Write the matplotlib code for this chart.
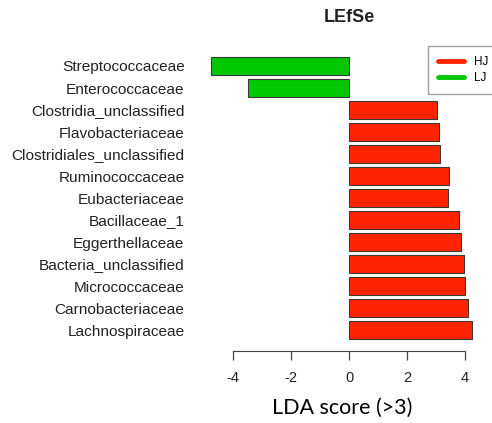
import matplotlib
matplotlib.use("Agg")
import matplotlib.pyplot as plt
from matplotlib.lines import Line2D

taxa = ["Streptococcaceae", "Enterococcaceae", "Clostridia_unclassified",
        "Flavobacteriaceae", "Clostridiales_unclassified", "Ruminococcaceae",
        "Eubacteriaceae", "Bacillaceae_1", "Eggerthellaceae",
        "Bacteria_unclassified", "Micrococcaceae", "Carnobacteriaceae",
        "Lachnospiraceae"]
lda = [-4.75, -3.49, 3.02, 3.10, 3.14, 3.44, 3.43, 3.79, 3.85, 3.96, 4.00, 4.09, 4.23]
groups = ["LJ", "LJ", "HJ", "HJ", "HJ", "HJ", "HJ", "HJ", "HJ", "HJ", "HJ", "HJ", "HJ"]
group_names = ["HJ", "LJ"]
group_colors = {"HJ": "#FF2400", "LJ": "#00C800"}
xticks = [-4, -2, 0, 2, 4]

W, H = 492, 423
fig = plt.figure(figsize=(W / 100, H / 100), dpi=100)
ax = fig.add_axes([204 / W, 1 - 343.2 / H, 275.5 / W, (343.2 - 52.8) / H])

ypos = list(range(len(taxa)))
ax.barh(ypos, lda, height=0.84, color=[group_colors[g] for g in groups],
        edgecolor="#3a3a3a", linewidth=0.8)
ax.set_xlim(-5, 4.5)
ax.set_ylim(len(taxa) - 0.4, -0.6)

ax.set_yticks(ypos)
ax.set_yticklabels(taxa, fontsize=11.1, color="#222222", family="Liberation Sans")
ax.tick_params(axis="y", length=0, pad=14)

for s in ["top", "right", "left"]:
    ax.spines[s].set_visible(False)
ax.spines["bottom"].set_position(("outward", 5.6))
ax.spines["bottom"].set_bounds(-4, 4)
ax.spines["bottom"].set_color("#444444")
ax.set_xticks(xticks)
ax.set_xticklabels([str(t) for t in xticks], fontsize=10.5, color="#222222",
                   family="Liberation Sans")
ax.tick_params(axis="x", length=6.5, width=0.9, color="#444444", pad=8)
ax.set_xlabel("LDA score (>3)", fontsize=15.5, family="Lato", labelpad=9)

fig.text(349 / W, 1 - 18 / H, "LEfSe", ha="center", va="center",
         fontsize=13, fontweight="bold", family="Liberation Sans", color="#222222")

handles = [Line2D([0], [0], color=group_colors[g], lw=3.5, solid_capstyle="round")
           for g in group_names]
leg = fig.legend(handles, group_names, loc="upper left",
                 bbox_to_anchor=(427.7 / W, 1 - 45.7 / H), borderaxespad=0,
                 handlelength=2.2, handletextpad=0.9,
                 labelspacing=0.35, borderpad=0.85, fancybox=False,
                 prop={"family": "Liberation Sans", "size": 8.5})
leg.get_frame().set_edgecolor("#888888")
leg.get_frame().set_linewidth(1.0)

fig.savefig("out.png", dpi=100)
